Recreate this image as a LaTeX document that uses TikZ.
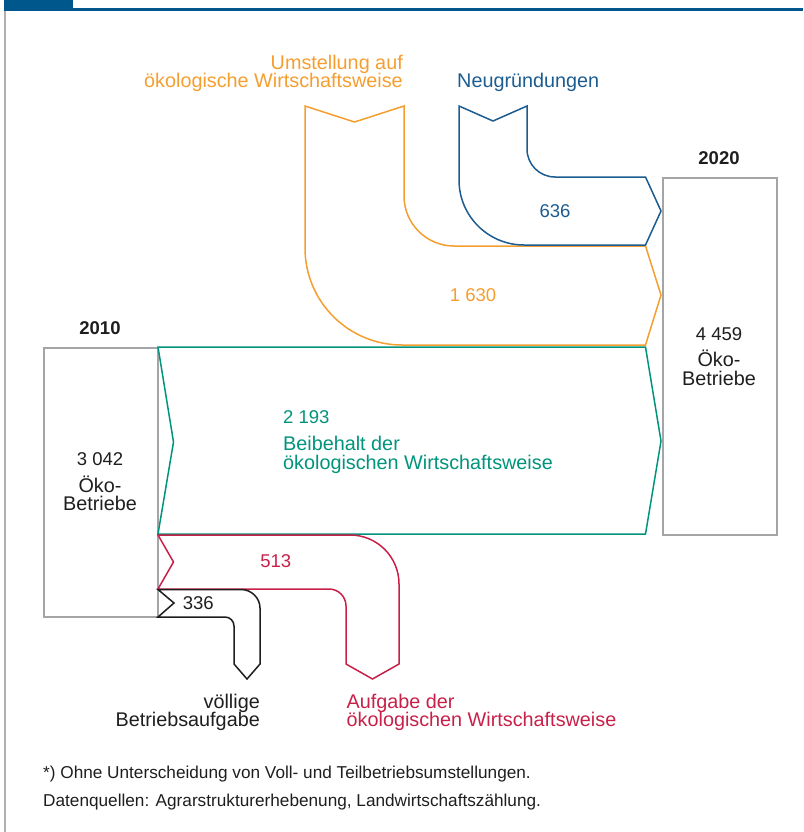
\documentclass[tikz,border=0pt]{standalone}
\usepackage{fontspec}
\setmainfont{Liberation Sans}
\usetikzlibrary{calc}
\definecolor{hdrblue}{RGB}{0,87,140}
\definecolor{cOrange}{RGB}{245,158,48}
\definecolor{cBlue}{RGB}{28,92,145}
\definecolor{cGreen}{RGB}{0,148,124}
\definecolor{cRed}{RGB}{200,32,72}
\definecolor{cText}{RGB}{30,30,30}
\definecolor{cGrey}{RGB}{165,165,168}
\definecolor{cFrame}{RGB}{175,175,178}
\begin{document}
\begin{tikzpicture}[x=1pt,y=-1pt,line join=miter]
\tikzset{
  lbl/.style={inner sep=0pt,font=\fontsize{19.8}{18}\selectfont},
  num/.style={inner sep=0pt,font=\fontsize{18.5}{18}\selectfont},
  yr/.style={inner sep=0pt,font=\fontsize{18.5}{18}\selectfont\bfseries,text=cText},
  foot/.style={inner sep=0pt,font=\fontsize{17.2}{18}\selectfont,text=cText,anchor=base west},
  box/.style={draw=cGrey,line width=1.8pt,inner sep=0pt,anchor=north west},
  band/.style={line width=1.5pt,fill=white},
}
\useasboundingbox (0,0) rectangle (803,832);
% header and frame
\fill[hdrblue] (4,0) rectangle (73,11);
\draw[hdrblue,line width=2.6pt] (73,9.7) -- (803,9.7);
\draw[cFrame,line width=1.8pt] (5,11) -- (5,832);

% boxes
\node[box,minimum width=114pt,minimum height=269pt] (b2010) at (43,347) {};
\node[box,minimum width=114pt,minimum height=357pt] (b2020) at (662,177) {};

% green band
\draw[band,draw=cGreen] (158,347) -- (645.5,347) -- (661,441) -- (645.5,534) -- (158,534) -- (173.5,442) -- cycle;
% orange band
\draw[band,draw=cOrange] (305,106) -- (354.5,122) -- (404,106) -- (404,196)
  .. controls (404,223.6) and (426.4,246) .. (454,246) -- (645.5,246) -- (661,295) -- (645.5,345)
  -- (402,345) .. controls (348.4,345) and (305,301.6) .. (305,248) -- cycle;
% blue band
\draw[band,draw=cBlue] (459,106) -- (493,121) -- (527,106) -- (527,149)
  .. controls (527,164.5) and (539.5,177) .. (555,177) -- (645.5,177) -- (661,211) -- (645.5,245)
  -- (524,245) .. controls (488.1,245) and (459,215.9) .. (459,180) -- cycle;
% red band
\draw[band,draw=cRed] (158,535) -- (350,535) .. controls (377.1,535) and (399,556.9) .. (399,584)
  -- (399,664) -- (372.5,679) -- (346,664) -- (346,606)
  .. controls (346,596.6) and (338.4,589) .. (329,589) -- (158,589) -- (173.5,562) -- cycle;
% black band
\draw[band,draw=cText] (158,589.5) -- (241,589.5) .. controls (251.5,589.5) and (260,598) .. (260,608)
  -- (260,664) -- (247,679) -- (234,664) -- (234,626)
  .. controls (234,621) and (230,617) .. (225,617) -- (158,617) -- (174,603) -- cycle;

% years
\node[yr,anchor=base] (y2020) at (719,164) {2020};
\node[yr,anchor=base] (y2010) at (100,334) {2010};
% box texts
\node[num,anchor=base,text=cText] (n4459) at (719,340) {4 459};
\node[lbl,anchor=base,text=cText] (o2020) at (719,366.5) {Öko-};
\node[lbl,anchor=base,text=cText] (t2020) at (719,385) {Betriebe};
\node[num,anchor=base,text=cText] (n3042) at (100,465.5) {3 042};
\node[lbl,anchor=base,text=cText] (o2010) at (100,492.3) {Öko-};
\node[lbl,anchor=base,text=cText] (t2010) at (100,510.7) {Betriebe};

% top labels
\node[lbl,anchor=base east,text=cOrange] (u1) at (403,69.5) {Umstellung auf};
\node[lbl,anchor=base east,text=cOrange] (u2) at (403,88) {ökologische Wirtschaftsweise};
\node[lbl,anchor=base west,text=cBlue] (neu) at (457,88) {Neugründungen};
% band values
\node[num,anchor=base,text=cBlue] (v636) at (555,217.5) {636};
\node[num,anchor=base,text=cOrange] (v1630) at (473,301.5) {1 630};
\node[num,anchor=base west,text=cGreen] (v2193) at (283,423.3) {2 193};
\node[lbl,anchor=base west,text=cGreen] (g1) at (283,450.3) {Beibehalt der};
\node[lbl,anchor=base west,text=cGreen] (g2) at (283,469) {ökologischen Wirtschaftsweise};
\node[num,anchor=base,text=cRed] (v513) at (275.7,567.3) {513};
\node[num,anchor=base,text=cText] (v336) at (198.3,609.3) {336};
% bottom labels
\node[lbl,anchor=base east,text=cText] (vb1) at (260,708.3) {völlige};
\node[lbl,anchor=base east,text=cText] (vb2) at (260,726.7) {Betriebsaufgabe};
\node[lbl,anchor=base west,text=cRed] (ab1) at (346.5,708.3) {Aufgabe der};
\node[lbl,anchor=base west,text=cRed] (ab2) at (346.5,726.7) {ökologischen Wirtschaftsweise};
% footer
\node[foot] (f1) at (43,778) {*) Ohne Unterscheidung von Voll- und Teilbetriebsumstellungen.};
\node[foot] (f2) at (43,806) {Datenquellen: Agrarstrukturerhebenung, Landwirtschaftszählung.};
\end{tikzpicture}
\end{document}
